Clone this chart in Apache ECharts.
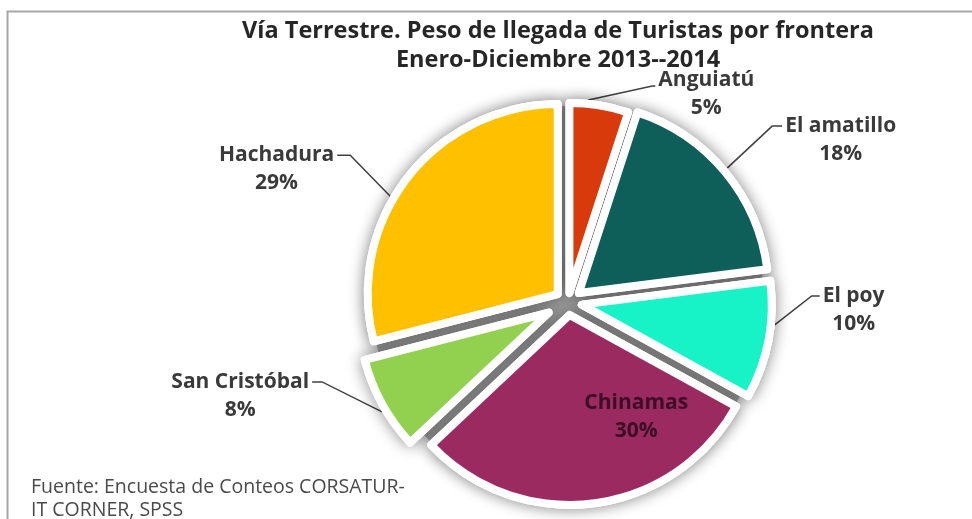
<!DOCTYPE html>
<html>
<head>
<meta charset="utf-8">
<script src="https://cdn.jsdelivr.net/npm/echarts@6/dist/echarts.min.js"></script>
<style>
  html, body { margin: 0; padding: 0; background: #ffffff; }
  #chart { width: 972px; height: 519px; }
</style>
</head>
<body>
<div id="chart"></div>
<script>
// Border crossings and their share of land arrivals (%)
const categories = ['Anguiatú', 'El amatillo', 'El poy', 'Chinamas', 'San Cristóbal', 'Hachadura'];
const shares = [5, 18, 10, 30, 8, 29];
const sliceColors = ['#D93A0C', '#0E5F5A', '#17F2C6', '#9B2A60', '#92D050', '#FFC000'];
const titleLines = ['Vía Terrestre. Peso de llegada de Turistas por frontera', 'Enero-Diciembre 2013--2014'];
const sourceLines = ['Fuente: Encuesta de Conteos CORSATUR-', 'IT CORNER, SPSS'];

// Pie drawing style: hub point, how far each slice is pulled out, radius
const hub = [568, 302];
const explode = [9, 14, 14, 13, 22, 13];
const sliceRadius = 190;
const borderWidth = 8;

// Leader lines: start angle offset from the slice bisector (deg), first segment, horizontal tail
const leaders = [
  { angle: 3.4, vector: [64, -14], tail: 3, padTop: 16 },
  { angle: 0.5, vector: [45, -42], tail: 10, padTop: 28 },
  { angle: 4.8, vector: [37, -29], tail: 8, padTop: 28 },
  null,
  { angle: 2.0, vector: [-60, -30], tail: 10, padTop: 28 },
  { angle: 7.5, vector: [-40, -41], tail: 13, padTop: 28 }
];
// Label kept inside its slice: distance along the bisector (fraction of radius) and shift
const insideLabel = { along: 0.53, shift: [54, 2] };

const labelFont = 'Open Sans';
const labelColor = '#3A3A3A';
const insideColor = '#3B0E26';
const total = shares.reduce((a, b) => a + b, 0);

function sliceGeometry(i) {
  const before = shares.slice(0, i).reduce((a, b) => a + b, 0);
  const midDeg = 90 - (before + shares[i] / 2) / total * 360;
  const mid = midDeg * Math.PI / 180;
  return {
    midDeg: midDeg,
    cx: hub[0] + explode[i] * Math.cos(mid),
    cy: hub[1] - explode[i] * Math.sin(mid)
  };
}

const hiddenItem = {
  itemStyle: { color: 'rgba(0,0,0,0)', borderWidth: 0, shadowBlur: 0 },
  label: { show: false },
  labelLine: { show: false }
};

function basePie(geo) {
  return {
    type: 'pie',
    center: [geo.cx, geo.cy],
    radius: [0, sliceRadius],
    startAngle: 90,
    clockwise: true,
    avoidLabelOverlap: false,
    silent: true,
    animation: false,
    emphasis: { disabled: true }
  };
}

// Shadow layer: white copies of every slice that cast the soft grey halo
function shadowSeries(i) {
  const s = basePie(sliceGeometry(i));
  s.label = { show: false };
  s.labelLine = { show: false };
  s.data = categories.map((name, j) => j !== i
    ? Object.assign({ name: name, value: shares[j] }, hiddenItem)
    : {
        name: name, value: shares[j],
        itemStyle: {
          color: '#ffffff', borderColor: '#ffffff', borderWidth: borderWidth,
          shadowBlur: 16, shadowColor: 'rgba(0,0,0,0.36)'
        }
      });
  return s;
}

// Colour layer: the slice itself with its white rim and its label
function colourSeries(i) {
  const geo = sliceGeometry(i);
  const s = basePie(geo);
  const lead = leaders[i];
  const inside = !lead;
  const textColor = inside ? insideColor : labelColor;
  const label = {
    show: true,
    position: inside ? 'inside' : 'outside',
    formatter: '{n|{b}}\n{p|{d}%}',
    padding: inside ? 0 : [lead.padTop, 0, 0, 0],
    rich: {
      n: { fontFamily: labelFont, fontWeight: 'bold', fontSize: 21, lineHeight: 28, color: textColor, align: 'center' },
      p: { fontFamily: labelFont, fontWeight: 'bold', fontSize: 21, lineHeight: 28, color: textColor, align: 'center' }
    }
  };
  s.data = categories.map((name, j) => j !== i
    ? Object.assign({ name: name, value: shares[j] }, hiddenItem)
    : {
        name: name, value: shares[j],
        itemStyle: { color: sliceColors[j], borderColor: '#ffffff', borderWidth: borderWidth },
        label: label,
        labelLine: { show: !inside, smooth: false, lineStyle: { color: '#404040', width: 1.5 } }
      });
  s.labelLayout = function (params) {
    if (params.dataIndex !== i) return {};
    const mid = geo.midDeg * Math.PI / 180;
    if (inside) {
      const r = sliceRadius * insideLabel.along;
      return {
        x: geo.cx + r * Math.cos(mid) + insideLabel.shift[0],
        y: geo.cy - r * Math.sin(mid) + insideLabel.shift[1],
        align: 'center',
        verticalAlign: 'middle'
      };
    }
    const a = (geo.midDeg + lead.angle) * Math.PI / 180;
    const rimR = sliceRadius + borderWidth / 2;
    const rim = [geo.cx + rimR * Math.cos(a), geo.cy - rimR * Math.sin(a)];
    const elbow = [rim[0] + lead.vector[0], rim[1] + lead.vector[1]];
    const dir = lead.vector[0] >= 0 ? 1 : -1;
    const end = [elbow[0] + dir * lead.tail, elbow[1]];
    return {
      x: end[0] + dir * 3,
      y: end[1],
      align: dir > 0 ? 'left' : 'right',
      verticalAlign: 'middle',
      labelLinePoints: [rim, elbow, end]
    };
  };
  return s;
}

// Grey base under the slices: shows through the gaps and at the hub
const series = [{
  type: 'pie',
  center: hub,
  radius: [0, 196],
  silent: true,
  animation: false,
  label: { show: false },
  labelLine: { show: false },
  data: [{ value: 1, itemStyle: { color: '#A4A4A4', shadowBlur: 18, shadowColor: 'rgba(0,0,0,0.28)' } }]
}];
categories.forEach((_, i) => series.push(shadowSeries(i)));
categories.forEach((_, i) => series.push(colourSeries(i)));

const chart = echarts.init(document.getElementById('chart'));
chart.setOption({
  backgroundColor: '#ffffff',
  animation: false,
  title: [
    {
      text: titleLines.join('\n'),
      left: 553,
      top: 12,
      textAlign: 'center',
      textStyle: { fontFamily: labelFont, fontWeight: 'bold', fontSize: 23.5, lineHeight: 29, color: '#262626' }
    },
    {
      text: sourceLines.join('\n'),
      left: 26,
      top: 471,
      textStyle: { fontFamily: labelFont, fontWeight: 'normal', fontSize: 19.5, lineHeight: 23, color: '#4A4A4A' }
    }
  ],
  graphic: [{
    type: 'polyline',
    silent: true,
    shape: { points: [[7.5, 519], [7.5, 11.5], [972, 11.5]] },
    style: { stroke: '#A6A6A6', lineWidth: 2, fill: null }
  }],
  series: series
});
</script>
</body>
</html>
